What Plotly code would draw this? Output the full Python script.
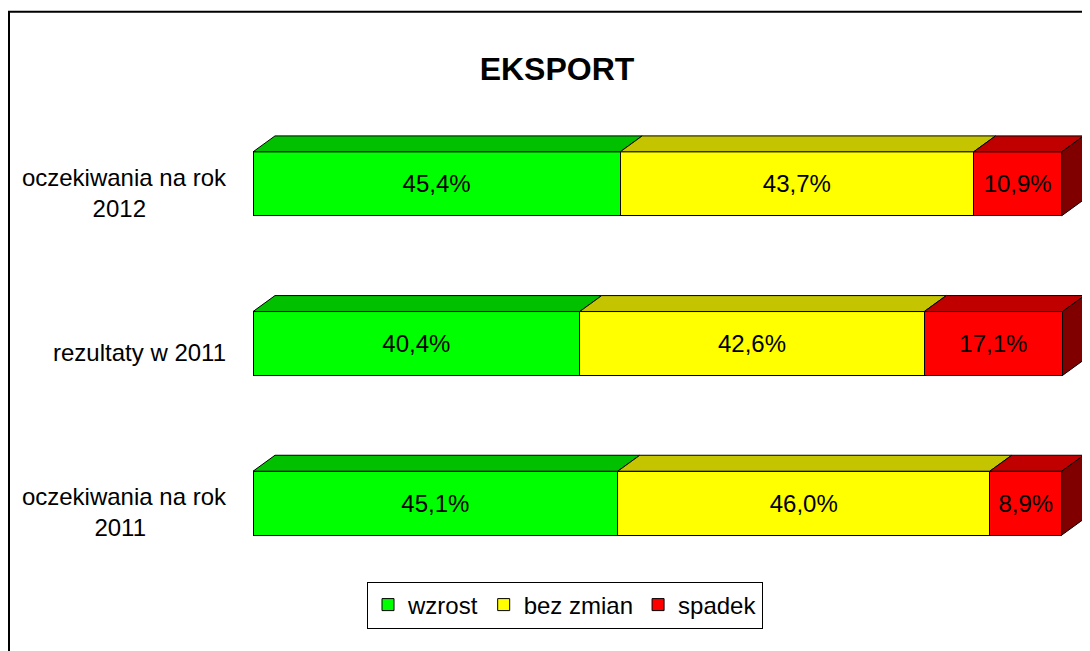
import plotly.graph_objects as go

# ---- data ----
categories = ["oczekiwania na rok 2011", "rezultaty w 2011", "oczekiwania na rok 2012"]
tick_labels = ["oczekiwania na rok<br>2011" + "\u00a0" * 12,
               "rezultaty w 2011",
               "oczekiwania na rok<br>2012" + "\u00a0" * 12]
series_names = ["wzrost", "bez zmian", "spadek"]
wzrost = [45.1, 40.4, 45.4]
bez_zmian = [46.0, 42.6, 43.7]
spadek = [8.9, 17.1, 10.9]
title_text = "EKSPORT"

# ---- style ----
front_colors = ["#00FF00", "#FFFF00", "#FF0000"]
top_colors = ["#00C000", "#C4C400", "#C00000"]
side_color = "#800000"
FONT = "Arial, 'Liberation Sans', sans-serif"
BAR_W = 0.4
DX = 2.72   # 3D depth in x data units
DY = 0.1    # 3D depth in y data units

values = [wzrost, bez_zmian, spadek]
ypos = list(range(len(categories)))

fig = go.Figure()
for name, vals, col in zip(series_names, values, front_colors):
    fig.add_trace(go.Bar(
        y=ypos, x=vals, name=name, orientation="h", width=BAR_W,
        marker=dict(color=col, line=dict(color="black", width=1)),
        text=[f"{v:.1f}".replace(".", ",") + "%" for v in vals],
        textposition="inside", insidetextanchor="middle",
        textfont=dict(family=FONT, size=24, color="black"),
        constraintext="none", hoverinfo="skip",
    ))

shapes = []
for i, y in enumerate(ypos):
    top = y + BAR_W / 2
    bot = y - BAR_W / 2
    start = 0.0
    for vals, tc in zip(values, top_colors):
        end = start + vals[i]
        shapes.append(dict(
            type="path", xref="x", yref="y",
            path=f"M {start},{top} L {end},{top} L {end+DX},{top+DY} L {start+DX},{top+DY} Z",
            fillcolor=tc, line=dict(color="black", width=1), layer="above"))
        start = end
    shapes.append(dict(
        type="path", xref="x", yref="y",
        path=f"M {start},{bot} L {start},{top} L {start+DX},{top+DY} L {start+DX},{bot+DY} Z",
        fillcolor=side_color, line=dict(color="black", width=1), layer="above"))

# figure is placed at an 8px page offset (body margin)
OFF = 8
W, H = 1090 - OFF, 651 - OFF
L, R = 253 - OFF, 4
T = 87.5 - OFF
B = H - (583.5 - OFF)
pw, ph = W - L - R, H - T - B
def px_x(px):
    return (px - OFF - L) / pw
def px_y(py):
    return (H - B - (py - OFF)) / ph

# outer chart border (top and left edges visible)
shapes.append(dict(
    type="path", xref="paper", yref="paper",
    path=f"M {px_x(9)},{px_y(670)} L {px_x(9)},{px_y(11)} L {px_x(1100)},{px_y(11)}",
    line=dict(color="black", width=2), layer="above"))

fig.update_layout(
    width=W, height=H,
    margin=dict(l=L, r=R, t=T, b=B, autoexpand=False),
    paper_bgcolor="white", plot_bgcolor="white",
    barmode="stack",
    shapes=shapes,
    font=dict(family=FONT, size=24, color="black"),
    title=dict(text=f"<b>{title_text}</b>", x=(557 - OFF) / W, xref="container", xanchor="center",
               y=1 - (69 - OFF) / H, yref="container", yanchor="middle",
               font=dict(family=FONT, size=32, color="black")),
    xaxis=dict(range=[0, 103], visible=False, fixedrange=True),
    yaxis=dict(range=[-0.5, 2.6], tickvals=ypos, ticktext=tick_labels,
               showgrid=False, zeroline=False, showline=False, ticks="",
               ticklabelstandoff=26, ticklabelshift=9,
               tickfont=dict(family=FONT, size=24, color="black")),
    legend=dict(orientation="h", x=px_x(565), xanchor="center", y=px_y(582), yanchor="top",
                traceorder="normal", bordercolor="black", borderwidth=1,
                font=dict(family=FONT, size=24, color="black"), bgcolor="white"),
    showlegend=True,
)

fig.write_html("out.html")
